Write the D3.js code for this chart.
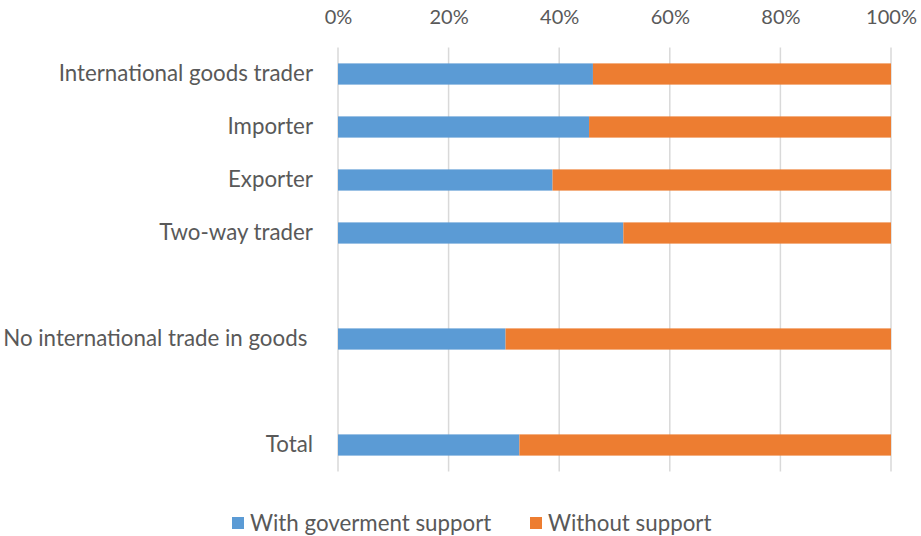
<!DOCTYPE html>
<html>
<head>
<meta charset="utf-8">
<script src="https://cdn.jsdelivr.net/npm/d3@7"></script>
<style>
  html, body { margin: 0; padding: 0; background: #fff; }
  svg text { font-family: Lato, "Open Sans", sans-serif; fill: #595959; white-space: pre; }
</style>
</head>
<body>
<svg id="chart" width="921" height="536"></svg>
<script>
// Category slots (empty strings are the gaps between groups)
const categories = ["International goods trader", "Importer", "Exporter", "Two-way trader", "", "No international trade in goods ", "", "Total"];
const seriesNames = ["With goverment support", "Without support"];
const withSupport    = [46.1, 45.4, 38.8, 51.6, null, 30.3, null, 32.8];
const withoutSupport = [53.9, 54.6, 61.2, 48.4, null, 69.7, null, 67.2];
const tickValues = [0, 20, 40, 60, 80, 100];
const colors = ["#5b9bd5", "#ed7d31"];

const svg = d3.select("#chart");
const margin = {left: 338, right: 30, top: 47.5, bottom: 64.5};
const W = 921, H = 536;
const fontFam = "Lato, 'Open Sans', sans-serif";

const x = d3.scaleLinear().domain([0, 100]).range([margin.left, W - margin.right]);
const y = d3.scaleBand().domain(d3.range(categories.length)).range([margin.top, H - margin.bottom]).paddingInner(0.6).paddingOuter(0.3);

// gridlines
svg.append("g").selectAll("line").data(tickValues).join("line")
  .attr("x1", d => x(d)).attr("x2", d => x(d))
  .attr("y1", margin.top).attr("y2", H - margin.bottom)
  .attr("stroke", "#d9d9d9").attr("stroke-width", 1.5);

// top axis labels
const xAxis = d3.axisTop(x).tickValues(tickValues).tickFormat(d => d + "%").tickSize(0).tickPadding(0);
const gx = svg.append("g").attr("transform", "translate(0,24)").call(xAxis);
gx.select(".domain").remove();
gx.selectAll("text").attr("font-size", 20).attr("fill", "#595959").style("font-family", fontFam).attr("dy", 0);

// bars
const rows = categories.map((c, i) => ({i, c, a: withSupport[i], b: withoutSupport[i]})).filter(r => r.a != null);
const stackData = rows.map(r => ({i: r.i, s0: r.a, s1: r.b}));
const stack = d3.stack().keys(["s0", "s1"])(stackData);
svg.append("g").selectAll("g").data(stack).join("g")
  .attr("fill", (d, k) => colors[k])
  .selectAll("rect").data(d => d).join("rect")
  .attr("x", d => x(d[0]))
  .attr("width", d => x(d[1]) - x(d[0]))
  .attr("y", d => y(d.data.i))
  .attr("height", y.bandwidth());

// category labels
const yAxis = d3.axisLeft(y).tickFormat(i => categories[i]).tickSize(0).tickPadding(25);
const gy = svg.append("g").attr("transform", `translate(${margin.left},0)`).call(yAxis);
gy.select(".domain").remove();
gy.selectAll("text").attr("font-size", 22.3).attr("fill", "#595959").style("font-family", fontFam);

// legend
const legendX = [232, 530];
const lg = svg.append("g").selectAll("g").data(seriesNames).join("g")
  .attr("transform", (d, k) => `translate(${legendX[k]},517)`);
lg.append("rect").attr("width", 12).attr("height", 12).attr("fill", (d, k) => colors[k]);
lg.append("text").attr("x", 18).attr("y", 6).attr("dy", "0.35em").attr("font-size", 22.3).style("font-family", fontFam).text(d => d);
</script>
</body>
</html>
